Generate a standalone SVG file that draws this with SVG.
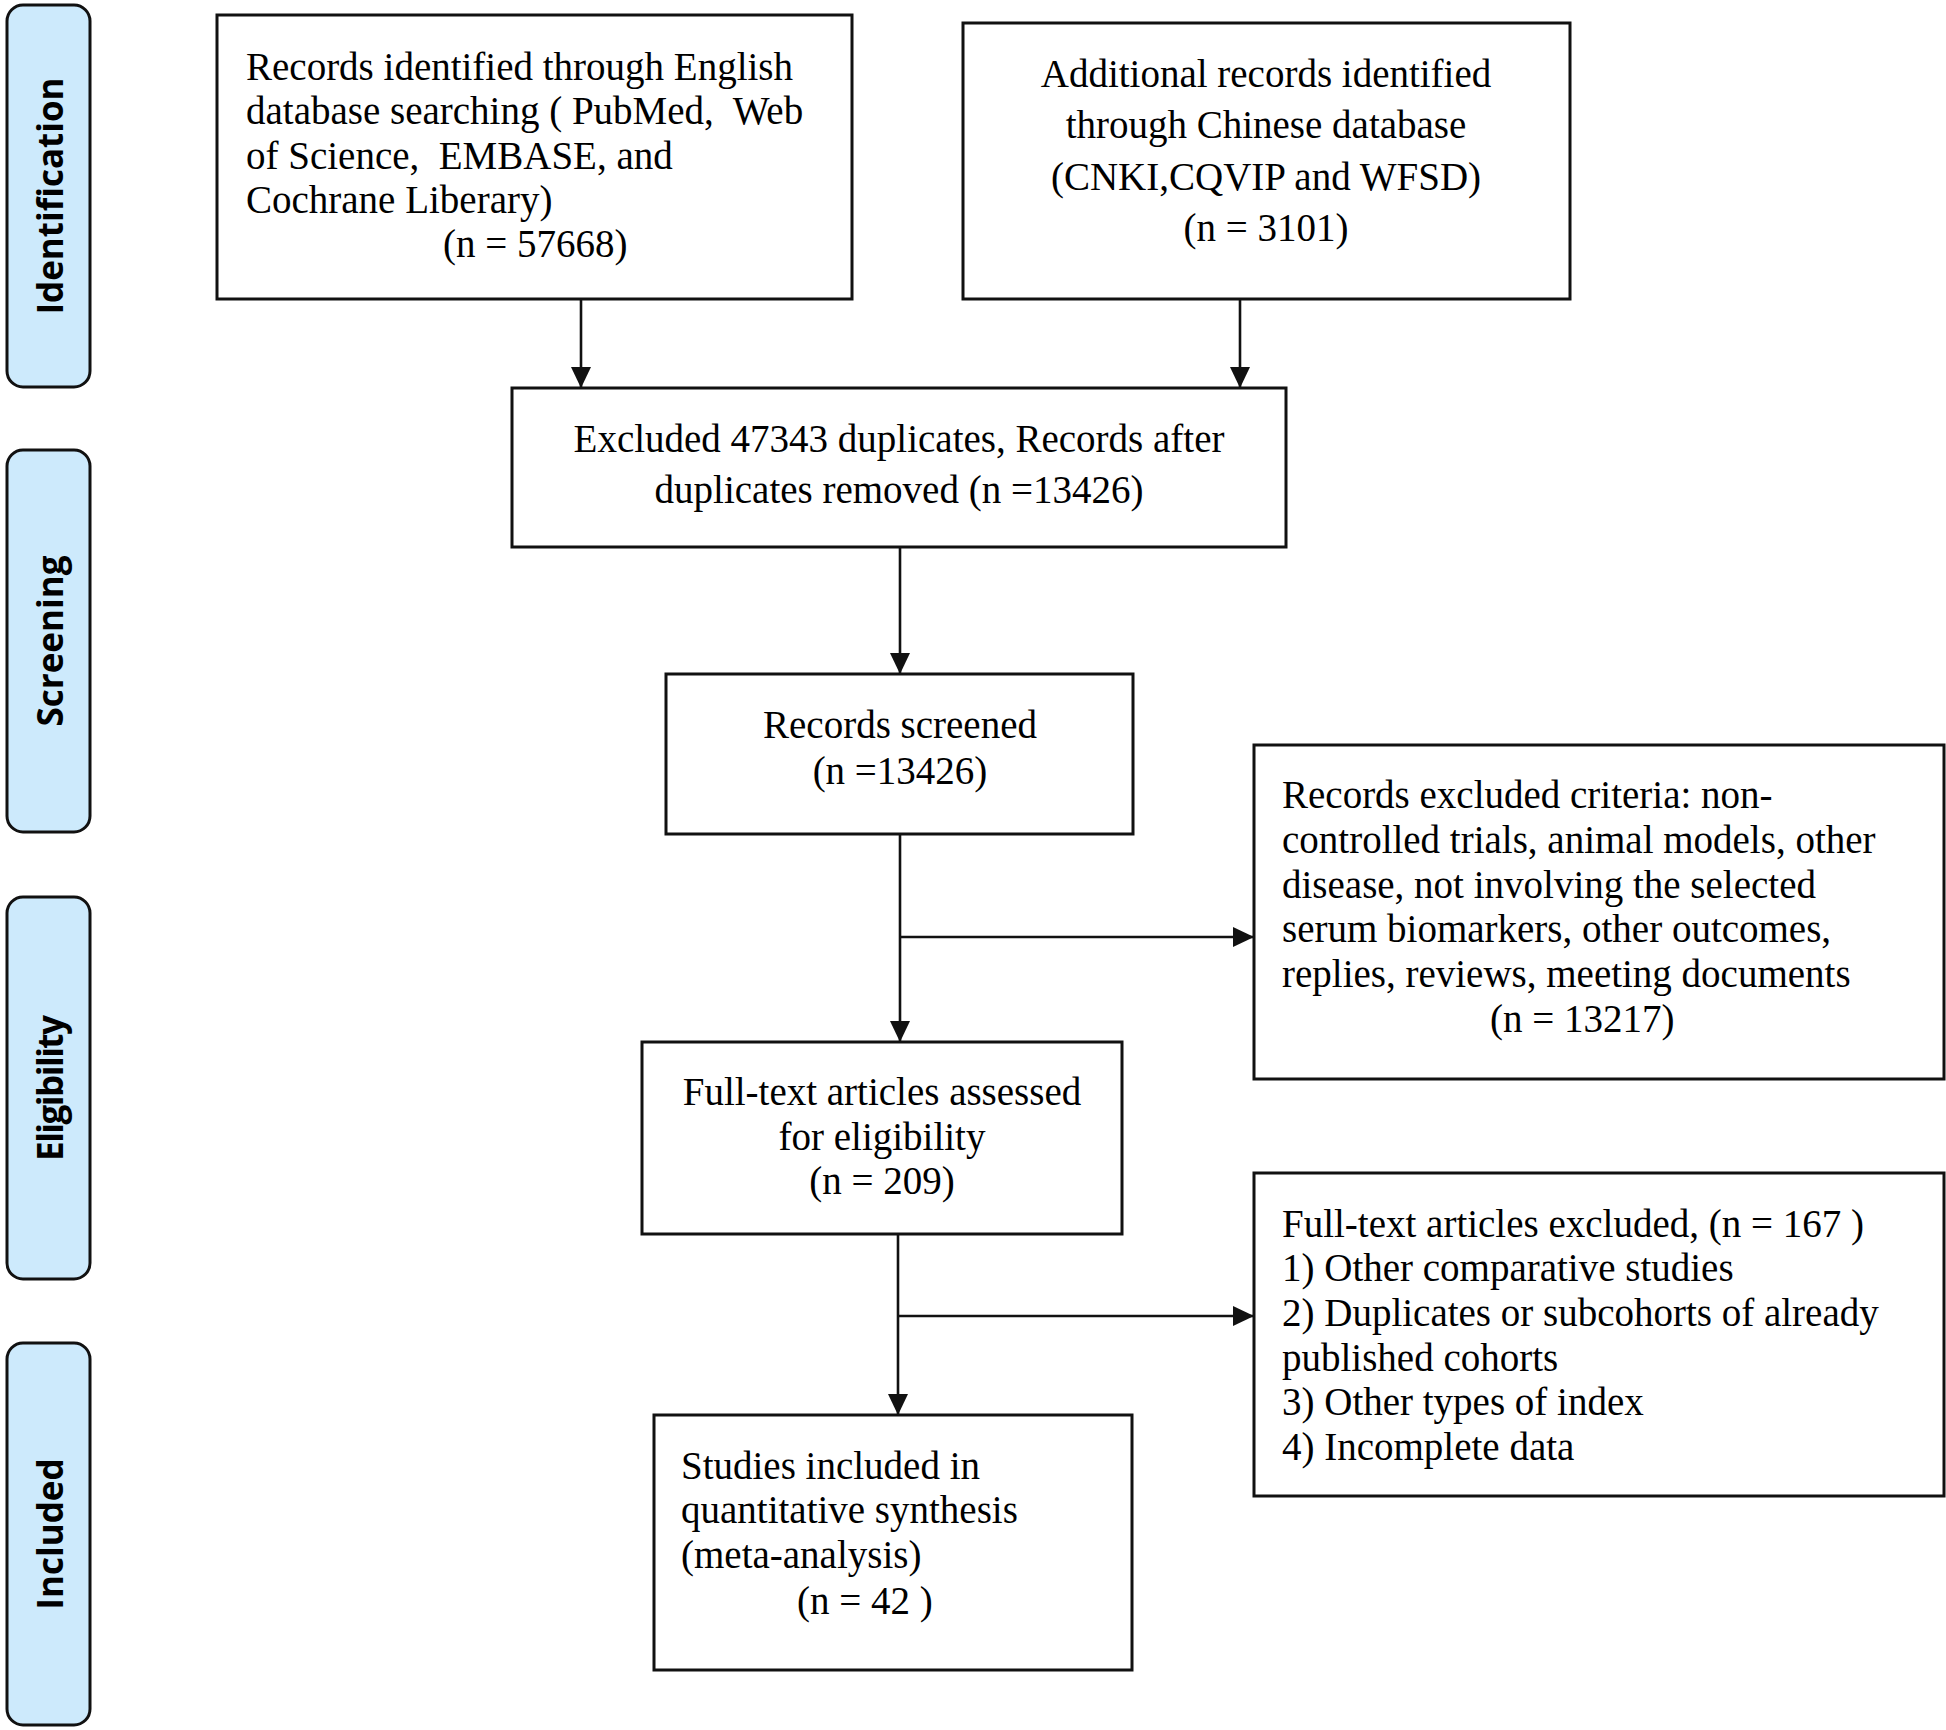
<svg xmlns="http://www.w3.org/2000/svg" width="1946" height="1730" viewBox="0 0 1946 1730">
<style>
.box{fill:#fff;stroke:#111;stroke-width:3}
.pill{fill:#cdeafc;stroke:#111;stroke-width:3}
.t{font-family:"Liberation Serif","Times New Roman",serif;font-size:39px;fill:#000}
.c{text-anchor:middle}
.lab{font-family:"Open Sans","DejaVu Sans",sans-serif;font-weight:bold;font-size:35px;fill:#000;text-anchor:middle}
.ln{stroke:#111;stroke-width:2.6;fill:none}
</style>
<defs>
<marker id="ah" markerUnits="userSpaceOnUse" markerWidth="22" markerHeight="22" refX="21" refY="10" orient="auto">
<path d="M0,0 L21,10 L0,20 z" fill="#111"/>
</marker>
</defs>
<rect width="1946" height="1730" fill="#fff"/>

<g id="stage-identification"><rect class="pill" x="7" y="5" width="83" height="382" rx="16"/><text class="lab" transform="translate(63,196) rotate(-90)">Identification</text></g>
<g id="stage-screening"><rect class="pill" x="7" y="450" width="83" height="382" rx="16"/><text class="lab" transform="translate(63,641) rotate(-90)">Screening</text></g>
<g id="stage-eligibility"><rect class="pill" x="7" y="897" width="83" height="382" rx="16"/><text class="lab" transform="translate(63,1088) rotate(-90)" textLength="146">Eligibility</text></g>
<g id="stage-included"><rect class="pill" x="7" y="1343" width="83" height="382" rx="16"/><text class="lab" transform="translate(63,1534) rotate(-90)">Included</text></g>

<g id="connectors">
<line class="ln" x1="581" y1="299" x2="581" y2="388" marker-end="url(#ah)"/>
<line class="ln" x1="1240" y1="299" x2="1240" y2="388" marker-end="url(#ah)"/>
<line class="ln" x1="900" y1="547" x2="900" y2="674" marker-end="url(#ah)"/>
<line class="ln" x1="900" y1="834" x2="900" y2="1042" marker-end="url(#ah)"/>
<line class="ln" x1="900" y1="937" x2="1254" y2="937" marker-end="url(#ah)"/>
<line class="ln" x1="898" y1="1234" x2="898" y2="1415" marker-end="url(#ah)"/>
<line class="ln" x1="898" y1="1316" x2="1254" y2="1316" marker-end="url(#ah)"/>
</g>

<g id="node-english">
<rect class="box" x="217" y="15" width="635" height="284"/>
<text class="t" x="246" y="80">Records identified through English</text>
<text class="t" x="246" y="124" xml:space="preserve">database searching ( PubMed,  Web</text>
<text class="t" x="246" y="169" xml:space="preserve">of Science,  EMBASE, and</text>
<text class="t" x="246" y="213">Cochrane Liberary)</text>
<text class="t" x="443" y="257">(n = 57668)</text>
</g>

<g id="node-chinese">
<rect class="box" x="963" y="23" width="607" height="276"/>
<text class="t c" x="1266" y="87">Additional records identified</text>
<text class="t c" x="1266" y="138">through Chinese database</text>
<text class="t c" x="1266" y="190">(CNKI,CQVIP and WFSD)</text>
<text class="t c" x="1266" y="241">(n = 3101)</text>
</g>

<g id="node-dedup">
<rect class="box" x="512" y="388" width="774" height="159"/>
<text class="t c" x="899" y="452">Excluded 47343 duplicates, Records after</text>
<text class="t c" x="899" y="503">duplicates removed (n =13426)</text>
</g>

<g id="node-screened">
<rect class="box" x="666" y="674" width="467" height="160"/>
<text class="t c" x="900" y="738">Records screened</text>
<text class="t c" x="900" y="784">(n =13426)</text>
</g>

<g id="node-excluded-records">
<rect class="box" x="1254" y="745" width="690" height="334"/>
<text class="t" x="1282" y="808">Records excluded criteria: non-</text>
<text class="t" x="1282" y="853">controlled trials, animal models, other</text>
<text class="t" x="1282" y="898">disease, not involving the selected</text>
<text class="t" x="1282" y="942">serum biomarkers, other outcomes,</text>
<text class="t" x="1282" y="987">replies, reviews, meeting documents</text>
<text class="t" x="1490" y="1032">(n = 13217)</text>
</g>

<g id="node-fulltext">
<rect class="box" x="642" y="1042" width="480" height="192"/>
<text class="t c" x="882" y="1105">Full-text articles assessed</text>
<text class="t c" x="882" y="1150">for eligibility</text>
<text class="t c" x="882" y="1194">(n = 209)</text>
</g>

<g id="node-excluded-fulltext">
<rect class="box" x="1254" y="1173" width="690" height="323"/>
<text class="t" x="1282" y="1237">Full-text articles excluded, (n = 167 )</text>
<text class="t" x="1282" y="1281">1) Other comparative studies</text>
<text class="t" x="1282" y="1326">2) Duplicates or subcohorts of already</text>
<text class="t" x="1282" y="1371">published cohorts</text>
<text class="t" x="1282" y="1415">3) Other types of index</text>
<text class="t" x="1282" y="1460">4) Incomplete data</text>
</g>

<g id="node-included">
<rect class="box" x="654" y="1415" width="478" height="255"/>
<text class="t" x="681" y="1479">Studies included in</text>
<text class="t" x="681" y="1523">quantitative synthesis</text>
<text class="t" x="681" y="1568">(meta-analysis)</text>
<text class="t" x="797" y="1614">(n = 42 )</text>
</g>
</svg>
